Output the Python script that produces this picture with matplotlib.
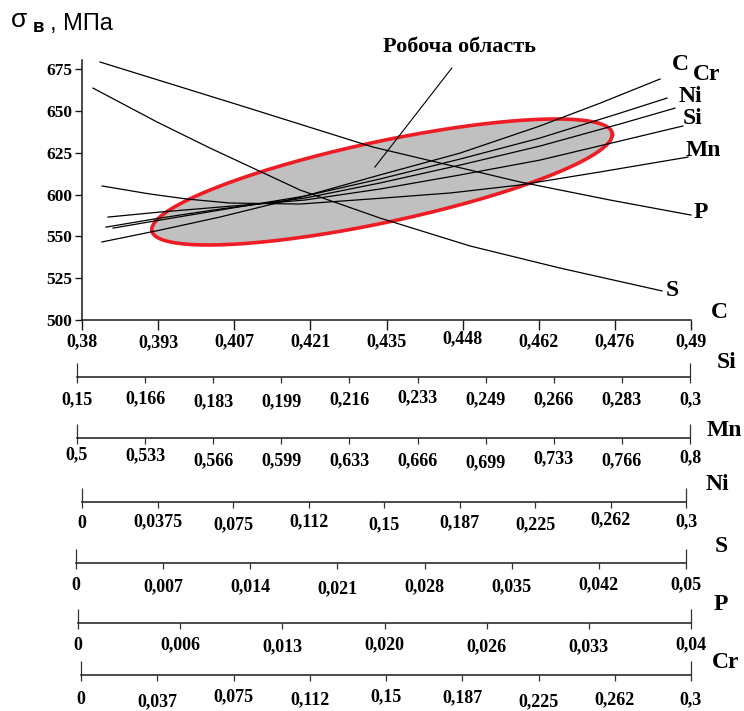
import numpy as np
import matplotlib
matplotlib.use("Agg")
import matplotlib.pyplot as plt

# ---------------- data ----------------
# main axis (carbon) ticks
c_tick_labels = ['0,38', '0,393', '0,407', '0,421', '0,435', '0,448', '0,462', '0,476', '0,49']
c_range = (0.38, 0.49)

# strength axis (labels as printed on the chart)
sigma_tick_pos = [525, 550, 575, 600, 625, 650, 675]
sigma_tick_labels = ['500', '525', '550', '600', '625', '650', '675']

# secondary element axes
si_tick_labels = ['0,15', '0,166', '0,183', '0,199', '0,216', '0,233', '0,249', '0,266', '0,283', '0,3']
mn_tick_labels = ['0,5', '0,533', '0,566', '0,599', '0,633', '0,666', '0,699', '0,733', '0,766', '0,8']
ni_tick_labels = ['0', '0,0375', '0,075', '0,112', '0,15', '0,187', '0,225', '0,262', '0,3']
s_tick_labels = ['0', '0,007', '0,014', '0,021', '0,028', '0,035', '0,042', '0,05']
p_tick_labels = ['0', '0,006', '0,013', '0,020', '0,026', '0,033', '0,04']
cr_tick_labels = ['0', '0,037', '0,075', '0,112', '0,15', '0,187', '0,225', '0,262', '0,3']

si_range = (0.15, 0.30)
mn_range = (0.50, 0.80)
ni_range = (0.0, 0.30)
s_range = (0.0, 0.05)
p_range = (0.0, 0.04)
cr_range = (0.0, 0.30)

# curves: concentration (own axis) vs sigma
c_conc = [0.3836, 0.3941, 0.4049, 0.4203, 0.4338, 0.4483, 0.4627, 0.4736, 0.4844]
c_sigma = [571.7, 578.8, 586.6, 599.2, 611.8, 624.9, 641.1, 654.8, 669.2]

cr_conc = [0.0153, 0.0384, 0.0680, 0.1099, 0.1468, 0.1862, 0.2256, 0.2650, 0.2882]
cr_sigma = [580.0, 584.8, 590.8, 599.2, 609.4, 621.3, 633.9, 648.8, 657.8]

ni_conc = [0.0118, 0.0384, 0.0680, 0.1099, 0.1468, 0.1862, 0.2256, 0.2650, 0.2921]
ni_sigma = [580.6, 586.0, 591.4, 598.0, 607.0, 617.7, 629.1, 642.3, 651.8]

si_conc = [0.1564, 0.1692, 0.1840, 0.2049, 0.2234, 0.2431, 0.2628, 0.2825, 0.2980]
si_sigma = [586.6, 589.6, 592.6, 596.8, 603.4, 611.8, 620.7, 632.1, 641.1]

mn_conc = [0.5099, 0.5335, 0.5517, 0.5729, 0.6074, 0.6419, 0.6813, 0.7158, 0.7552, 0.7985]
mn_sigma = [605.2, 600.4, 597.4, 595.0, 594.4, 597.4, 601.0, 605.8, 613.6, 622.5]

p_conc = [0.00118, 0.01011, 0.01911, 0.02877, 0.03468, 0.0400]
p_sigma = [679.4, 654.2, 628.5, 607.6, 596.8, 587.8]

s_conc = [0.00090, 0.00616, 0.01051, 0.01790, 0.02447, 0.03186, 0.03924, 0.04762]
s_sigma = [663.8, 643.5, 627.9, 602.8, 586.0, 569.3, 556.1, 542.4]

# working region (ellipse) in (C, sigma) units
region_center = (0.4342, 607.6)
region_half_c = 0.0416
region_half_sigma = 37.7
region_phase_deg = 41.0

# pointer of the "working region" label
pointer_c = [0.4468, 0.4329]
pointer_sigma = [675.8, 616.5]

# ---------------- figure ----------------
W, H = 744, 711
fig = plt.figure(figsize=(W / 100, H / 100), dpi=100)
fig.patch.set_facecolor('white')


def fx(px):
    return px / W


def fy(py):
    return 1 - py / H


SERIF = 'Liberation Serif'
SANS = 'Liberation Sans'
AX_COLOR = '#1a1a1a'
TICK_FS = 13

ax = fig.add_axes([fx(82), fy(320), fx(691) - fx(82), fy(60) - fy(320)])
ax.set_xlim(*c_range)
ax.set_ylim(525, 680.6)
ax.patch.set_visible(False)
for side in ('top', 'right'):
    ax.spines[side].set_visible(False)
for side in ('left', 'bottom'):
    ax.spines[side].set_color(AX_COLOR)
    ax.spines[side].set_linewidth(1.1)

c_ticks = np.linspace(c_range[0], c_range[1], len(c_tick_labels))
ax.set_xticks(c_ticks)
ax.set_xticklabels([])
ax.tick_params(axis='x', direction='out', length=7, width=1, color=AX_COLOR)
ax.set_yticks(sigma_tick_pos)
ax.set_yticklabels(sigma_tick_labels, fontfamily=SERIF, fontweight='bold', fontsize=12.5)
ax.tick_params(axis='y', direction='out', length=5, width=1, color=AX_COLOR, pad=2)

c_label_dy = [22, 23, 22, 22, 22, 19, 22, 22, 22]
for v, lab, dy in zip(c_ticks, c_tick_labels, c_label_dy):
    ax.annotate(lab, xy=(v, 0), xycoords=('data', 'axes fraction'),
                xytext=(0, -dy), textcoords='offset pixels', ha='center', va='center',
                fontfamily=SERIF, fontweight='bold', fontsize=TICK_FS, annotation_clip=False)

# working region
t = np.linspace(0, 2 * np.pi, 500)
phi = np.deg2rad(region_phase_deg)
ex = region_center[0] + region_half_c * np.cos(t)
ey = region_center[1] + region_half_sigma * np.cos(t - phi)
ax.fill(ex, ey, color='#c0c0c0', zorder=1, lw=0)
ax.plot(ex, ey, color='#ee1c24', lw=2.6, zorder=2)


def to_c(v, rng):
    v = np.asarray(v, dtype=float)
    return c_range[0] + (v - rng[0]) / (rng[1] - rng[0]) * (c_range[1] - c_range[0])


curves = [
    (c_conc, c_sigma, c_range),
    (cr_conc, cr_sigma, cr_range),
    (ni_conc, ni_sigma, ni_range),
    (si_conc, si_sigma, si_range),
    (mn_conc, mn_sigma, mn_range),
    (p_conc, p_sigma, p_range),
    (s_conc, s_sigma, s_range),
]
for conc, sig, rng in curves:
    ax.plot(to_c(conc, rng), sig, color='black', lw=0.9, zorder=3, clip_on=False)

ax.plot(pointer_c, pointer_sigma, color='black', lw=0.8, zorder=3, clip_on=False)


# curve / axis labels
def ptext(px, py, s, size=17, family=SERIF, weight='bold', **kw):
    fig.text(fx(px), fy(py), s, fontsize=size, fontfamily=family, fontweight=weight,
             ha='center', va='center', **kw)


ptext(680, 65, 'C')
ptext(707, 74, 'Cr')
ptext(690, 96, 'Ni')
ptext(693, 118, 'Si')
ptext(703, 150, 'Mn')
ptext(701, 212, 'P')
ptext(672, 290, 'S')
ptext(719, 313, 'C')
ptext(459, 47, 'Робоча область', size=16)

# y-axis title
fig.text(fx(11), fy(27), 'σ', fontsize=19, fontfamily=SANS, ha='left', va='baseline')
fig.text(fx(33), fy(32), 'в', fontsize=13.5, fontfamily=SANS, fontweight='bold', ha='left', va='baseline')
fig.text(fx(50), fy(30), ', МПа', fontsize=17, fontfamily=SANS, ha='left', va='baseline')

# ---------------- secondary axes ----------------
sec_axes = [
    # labels, range, left px, right px, line y px, name, name pos, label offsets
    (si_tick_labels, si_range, 77, 690, 377, 'Si', (727, 363), [23, 22, 25, 25, 23, 21, 23, 23, 23, 23]),
    (mn_tick_labels, mn_range, 77, 690, 438, 'Mn', (724, 430), [17, 18, 23, 23, 23, 23, 25, 21, 23, 20]),
    (ni_tick_labels, ni_range, 82, 686, 502, 'Ni', (717, 485), [21, 20, 23, 20, 23, 21, 23, 18, 20]),
    (s_tick_labels, s_range, 76, 686, 563, 'S', (721, 547), [22, 24, 24, 26, 24, 24, 22, 22]),
    (p_tick_labels, p_range, 78, 691, 623, 'P', (721, 605), [22, 22, 24, 22, 24, 24, 22]),
    (cr_tick_labels, cr_range, 81, 691, 675, 'Cr', (726, 663), [25, 27, 22, 25, 22, 23, 27, 25, 25]),
]

for labels, rng, x0, x1, ly, name, npos, dys in sec_axes:
    sa = fig.add_axes([fx(x0), fy(ly), fx(x1) - fx(x0), 0.0005])
    sa.set_xlim(*rng)
    sa.patch.set_visible(False)
    for side in ('top', 'right', 'left'):
        sa.spines[side].set_visible(False)
    sa.spines['bottom'].set_color(AX_COLOR)
    sa.spines['bottom'].set_linewidth(1.1)
    sa.set_yticks([])
    ticks = np.linspace(rng[0], rng[1], len(labels))
    sa.set_xticks(ticks)
    sa.set_xticklabels([])
    sa.xaxis.remove_overlapping_locs = False
    sa.set_xticks([rng[0], rng[1]], minor=True)
    sa.tick_params(axis='x', which='major', direction='out', length=4, width=0.9, color='#333333')
    sa.tick_params(axis='x', which='minor', direction='in', length=10, width=0.9, color='#333333')
    for v, lab, dy in zip(ticks, labels, dys):
        sa.annotate(lab, xy=(v, 0), xycoords=('data', 'axes fraction'),
                    xytext=(0, -dy), textcoords='offset pixels', ha='center', va='center',
                    fontfamily=SERIF, fontweight='bold', fontsize=TICK_FS, annotation_clip=False)
    ptext(npos[0], npos[1], name)

fig.savefig('out.png', dpi=100, facecolor='white')
